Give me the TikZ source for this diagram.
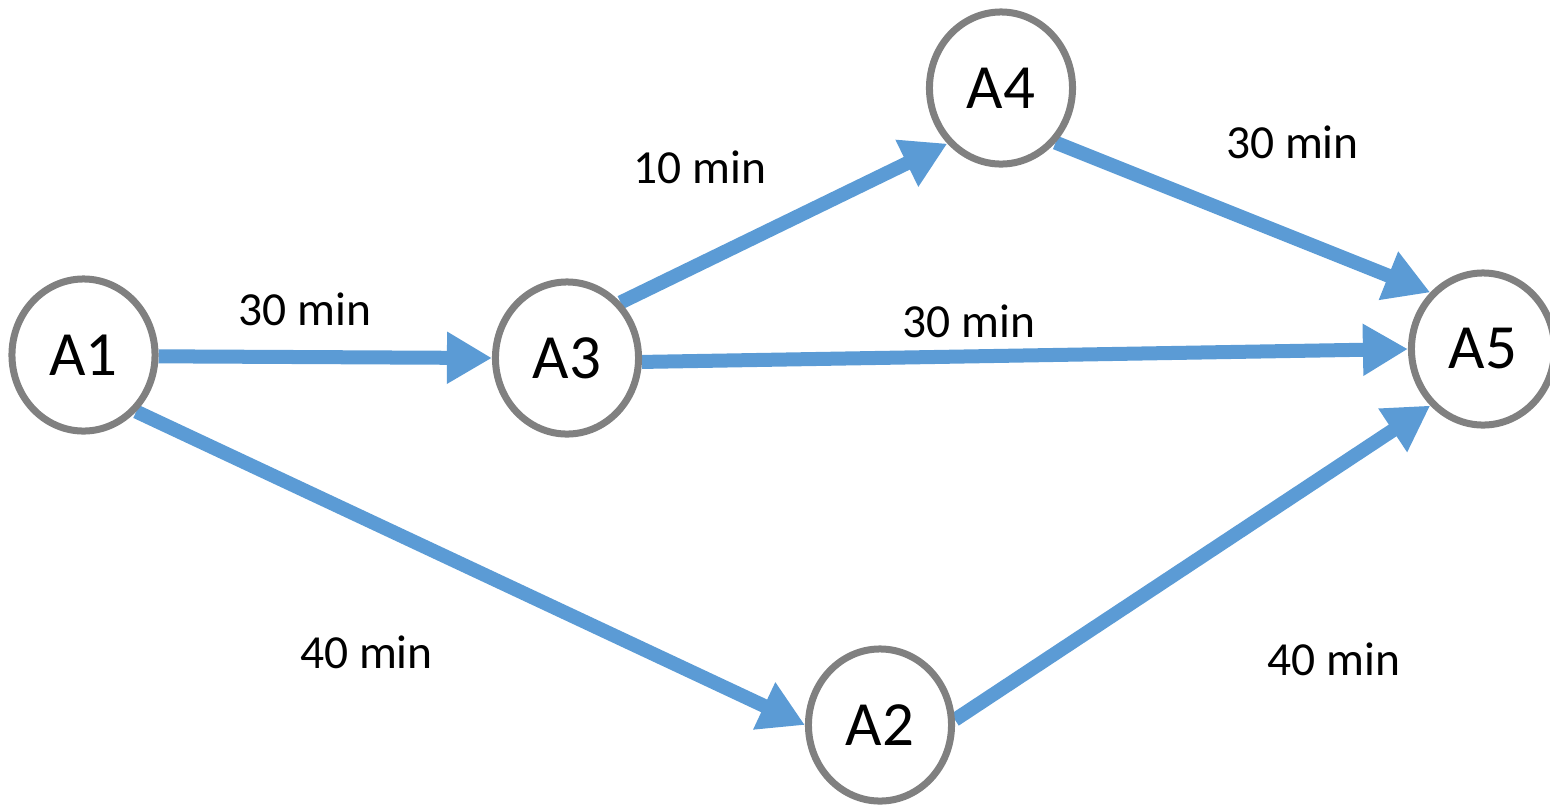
\documentclass[tikz,border=0pt]{standalone}
\usepackage{fontspec}
\usetikzlibrary{arrows.meta,shapes.geometric}
\newfontfamily\calib{Carlito}
\definecolor{flowblue}{HTML}{5B9BD5}
\definecolor{ringgray}{HTML}{808080}
\pgfdeclarelayer{background}
\pgfsetlayers{background,main}
\tikzset{
  state/.style={ellipse, draw=ringgray, line width=0.07cm, fill=white,
    minimum width=1.43cm, minimum height=1.52cm, inner sep=0pt,
    font=\calib\fontsize{17.9}{20}\selectfont},
  flow/.style={draw=flowblue, line width=0.14cm,
    -{Triangle[length=0.45cm,width=0.49cm]}},
  dur/.style={font=\calib\fontsize{13.5}{16}\selectfont, inner sep=0pt}
}
\begin{document}
\begin{tikzpicture}[x=0.01cm, y=-0.01cm]
\useasboundingbox (0,0) rectangle (1550,805);

% activity states
\node[state] (A1) at (83.5,355) {A1};
\node[state] (A3) at (567,358) {A3};
\node[state] (A4) at (1001,88) {A4};
\node[state] (A5) at (1483,349) {A5};
\node[state] (A2) at (880,725) {A2};

% transitions, kept behind the rings
\begin{pgfonlayer}{background}
  \draw[flow] (A1.-1.5) -- (A3.180);
  \draw[flow] (A1.-47) -- (A2.180);
  \draw[flow] (A3.46) -- (A4.226.5);
  \draw[flow] (A4.-45.5) -- (A5.133.5);
  \draw[flow] (A3.-3) -- (A5.180);
  \draw[flow] (A2.4) -- (A5.227);
\end{pgfonlayer}

% durations
\node[dur] (d13) at (305,309) {30 min};
\node[dur] (d34) at (700,167) {10 min};
\node[dur] (d45) at (1292.5,142.5) {30 min};
\node[dur] (d35) at (969,321) {30 min};
\node[dur] (d12) at (366.5,652) {40 min};
\node[dur] (d25) at (1334,659) {40 min};
\end{tikzpicture}
\end{document}
